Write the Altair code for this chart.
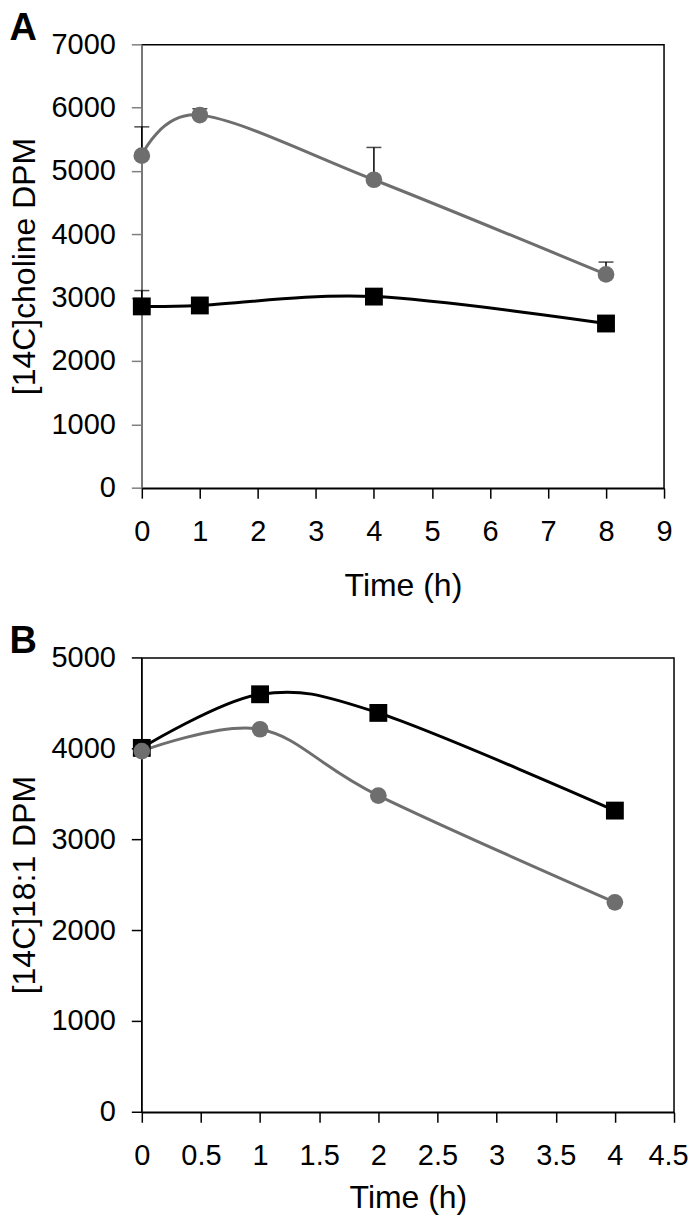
import altair as alt
import pandas as pd

FONT = "Liberation Sans"

series_names = ["WT", "lpcat1 lpcat2-2"]
series_colors = ["#000000", "#6e6e6e"]

# Panel A: [14C]choline DPM
time_a = [0, 1, 4, 8]
wt_a = [2870, 2885, 3025, 2600]
mut_a = [5250, 5890, 4870, 3375]
wt_a_upper = [3120, None, None, None]
mut_a_upper = [5705, 5990, 5380, 3570]
ticks_a_x = [0, 1, 2, 3, 4, 5, 6, 7, 8, 9]
ticks_a_y = [0, 1000, 2000, 3000, 4000, 5000, 6000, 7000]

# Panel B: [14C]18:1 DPM
time_b = [0, 1, 2, 4]
wt_b = [4010, 4600, 4395, 3320]
mut_b = [3975, 4215, 3485, 2310]
ticks_b_x = [0, 0.5, 1, 1.5, 2, 2.5, 3, 3.5, 4, 4.5]
ticks_b_y = [0, 1000, 2000, 3000, 4000, 5000]

# legend symbols: line segment + marker
SQ_PATH = "M-1,-0.05H1V0.05H-1Z M-0.29,-0.29H0.29V0.29H-0.29Z"
CI_PATH = "M-1,-0.05H1V0.05H-1Z M-0.31,0A0.31,0.31 0 1,1 0.31,0A0.31,0.31 0 1,1 -0.31,0Z"


def make_df(times, wt, mut, wt_up=None, mut_up=None):
    rows = []
    for i, t in enumerate(times):
        rows.append({"t": t, "v": wt[i], "series": series_names[0],
                     "up": (wt_up[i] if wt_up else None)})
        rows.append({"t": t, "v": mut[i], "series": series_names[1],
                     "up": (mut_up[i] if mut_up else None)})
    return pd.DataFrame(rows)


def panel(df, x_dom, x_ticks, y_dom, y_ticks, w, h, ytitle, letter,
          yaxis_color, leg_x, leg_y, with_err, x_title_pad, last_shift):
    xs = alt.Scale(domain=x_dom, nice=False, zero=False)
    ys = alt.Scale(domain=y_dom, nice=False)
    last = x_ticks[-1]
    xaxis = alt.Axis(values=x_ticks, title="Time (h)", labelExpr="'' + datum.value",
                     labelFlush=False,
                     labelOffset={"condition": {"test": f"datum.value == {last}",
                                                "value": last_shift},
                                  "value": 0},
                     tickSize=10, labelPadding=19, titlePadding=x_title_pad, grid=False,
                     domainColor="black", tickColor="black", domainWidth=1.5, tickWidth=1.5,
                     labelFont=FONT, titleFont=FONT, labelFontSize=29, titleFontSize=32,
                     titleFontWeight="normal", labelColor="black", titleColor="black")
    yaxis = alt.Axis(values=y_ticks, title=ytitle, labelExpr="'' + datum.value", tickSize=10,
                     labelPadding=16, titlePadding=9, grid=False, translate=0,
                     domainColor=yaxis_color, tickColor=yaxis_color,
                     domainWidth=1.5, tickWidth=1.5,
                     labelFont=FONT, titleFont=FONT, labelFontSize=29, titleFontSize=32,
                     titleFontWeight="normal", labelColor="black", titleColor="black")
    X = alt.X("t:Q", scale=xs, axis=xaxis)
    Y = alt.Y("v:Q", scale=ys, axis=yaxis)
    base = alt.Chart(df)

    layers = []
    if with_err:
        err = base.transform_filter("isValid(datum.up)")
        layers.append(err.mark_rule(color="black", strokeWidth=1.5).encode(
            x=X, y=Y, y2="up:Q"))
        layers.append(err.mark_tick(color="black", orient="horizontal", size=15,
                                    thickness=1.5).encode(
            x=X, y=alt.Y("up:Q", scale=ys, axis=yaxis)))
    layers.append(base.mark_line(interpolate="cardinal", strokeWidth=3).encode(
        x=X, y=Y,
        color=alt.Color("series:N", scale=alt.Scale(domain=series_names, range=series_colors),
                        legend=None),
        order="t:Q"))
    layers.append(base.transform_filter(alt.datum.series == series_names[0]).mark_point(
        shape="square", filled=True, size=320, opacity=1, color=series_colors[0]).encode(x=X, y=Y))
    layers.append(base.transform_filter(alt.datum.series == series_names[1]).mark_point(
        shape="circle", filled=True, size=280, opacity=1, color=series_colors[1]).encode(x=X, y=Y))

    leg = alt.Legend(title=None, orient="none", legendX=leg_x, legendY=leg_y,
                     symbolSize=3600, labelFont=FONT, labelFontSize=30, labelColor="black",
                     labelOffset=8, labelLimit=400,
                     labelFontStyle={"expr": "datum.label == 'WT' ? 'normal' : 'italic'"})
    layers.append(base.mark_point(filled=True, size=0).encode(
        x=X, y=Y,
        fill=alt.Fill("series:N", scale=alt.Scale(domain=series_names, range=series_colors),
                      legend=leg),
        shape=alt.Shape("series:N", scale=alt.Scale(domain=series_names,
                                                     range=[SQ_PATH, CI_PATH]),
                        legend=leg)))

    return alt.layer(*layers).properties(
        width=w, height=h,
        title=alt.TitleParams(letter, anchor="start", frame="bounds", fontSize=38,
                              fontWeight="bold", font=FONT, color="black", offset=-17))


df_a = make_df(time_a, wt_a, mut_a, wt_a_upper, mut_a_upper)
df_b = make_df(time_b, wt_b, mut_b)

pa = panel(df_a, [0, 9], ticks_a_x, [0, 7000], ticks_a_y, 523, 444,
           "[14C]choline DPM", "A", "#7f7f7f", 45, 316, True, 24, 0)
pb = panel(df_b, [0, 4.5], ticks_b_x, [0, 5000], ticks_b_y, 533, 455,
           "[14C]18:1 DPM", "B", "black", 39, 321, False, 12, -6)

chart = alt.vconcat(pa, pb, spacing=20).properties(
    padding={"left": 0, "top": 0, "right": 0, "bottom": 0}
).configure_view(stroke="black", strokeWidth=1.5)

chart.save("out.html", embed_options={"renderer": "svg", "actions": False})
